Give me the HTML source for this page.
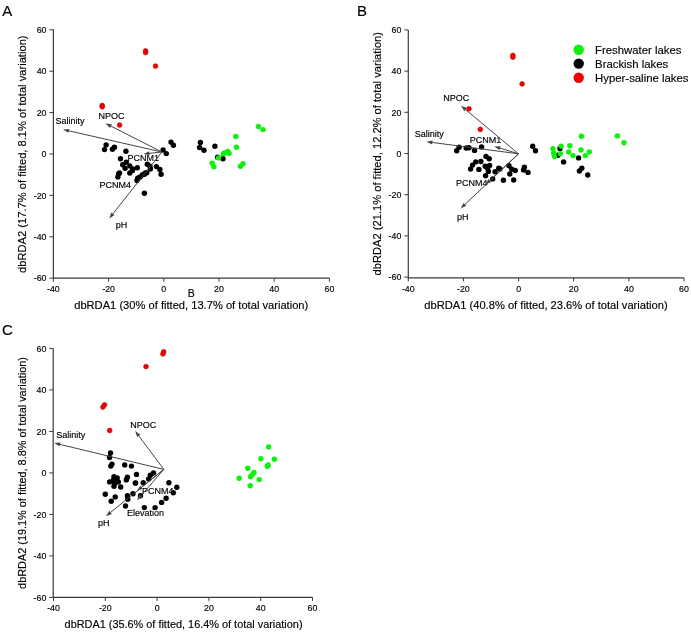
<!DOCTYPE html>
<html><head><meta charset="utf-8"><title>dbRDA</title>
<style>
html,body{margin:0;padding:0;background:#fff;}
body{width:691px;height:632px;overflow:hidden;}
svg{display:block;font-family:'Liberation Sans', sans-serif;will-change:transform;} text{stroke:#000;stroke-width:0.15px;}
</style></head><body>
<svg width="691" height="632" viewBox="0 0 691 632">
<rect width="691" height="632" fill="#fff"/>
<path d="M53.4 29.5 V278.2 H329.4" fill="none" stroke="#3a3a3a" stroke-width="1.2"/>
<path d="M53.4 278.2 v3.5" stroke="#3a3a3a" stroke-width="1"/>
<text x="53.4" y="291.8" font-size="8.8" text-anchor="middle" fill="#000" >-40</text>
<path d="M108.6 278.2 v3.5" stroke="#3a3a3a" stroke-width="1"/>
<text x="108.6" y="291.8" font-size="8.8" text-anchor="middle" fill="#000" >-20</text>
<path d="M163.8 278.2 v3.5" stroke="#3a3a3a" stroke-width="1"/>
<text x="163.8" y="291.8" font-size="8.8" text-anchor="middle" fill="#000" >0</text>
<path d="M219.0 278.2 v3.5" stroke="#3a3a3a" stroke-width="1"/>
<text x="219.0" y="291.8" font-size="8.8" text-anchor="middle" fill="#000" >20</text>
<path d="M274.2 278.2 v3.5" stroke="#3a3a3a" stroke-width="1"/>
<text x="274.2" y="291.8" font-size="8.8" text-anchor="middle" fill="#000" >40</text>
<path d="M329.4 278.2 v3.5" stroke="#3a3a3a" stroke-width="1"/>
<text x="329.4" y="291.8" font-size="8.8" text-anchor="middle" fill="#000" >60</text>
<path d="M53.4 278.2 h-4" stroke="#3a3a3a" stroke-width="1"/>
<text x="46.5" y="281.4" font-size="8.8" text-anchor="end" fill="#000" >-60</text>
<path d="M53.4 236.8 h-4" stroke="#3a3a3a" stroke-width="1"/>
<text x="46.5" y="240.0" font-size="8.8" text-anchor="end" fill="#000" >-40</text>
<path d="M53.4 195.4 h-4" stroke="#3a3a3a" stroke-width="1"/>
<text x="46.5" y="198.6" font-size="8.8" text-anchor="end" fill="#000" >-20</text>
<path d="M53.4 154.0 h-4" stroke="#3a3a3a" stroke-width="1"/>
<text x="46.5" y="157.2" font-size="8.8" text-anchor="end" fill="#000" >0</text>
<path d="M53.4 112.6 h-4" stroke="#3a3a3a" stroke-width="1"/>
<text x="46.5" y="115.8" font-size="8.8" text-anchor="end" fill="#000" >20</text>
<path d="M53.4 71.2 h-4" stroke="#3a3a3a" stroke-width="1"/>
<text x="46.5" y="74.4" font-size="8.8" text-anchor="end" fill="#000" >40</text>
<path d="M53.4 29.8 h-4" stroke="#3a3a3a" stroke-width="1"/>
<text x="46.5" y="33.0" font-size="8.8" text-anchor="end" fill="#000" >60</text>
<text x="2.2" y="15.5" font-size="15" text-anchor="start" fill="#000" >A</text>
<text x="74.2" y="309.3" font-size="11.15" text-anchor="start" fill="#000" >dbRDA1 (30% of fitted, 13.7% of total variation)</text>
<text transform="translate(25.6 154.2) rotate(-90)" font-size="11.17" text-anchor="middle" fill="#000">dbRDA2 (17.7% of fitted, 8.1% of total variation)</text>
<text x="187.8" y="297.3" font-size="10.5" text-anchor="start" fill="#000" >B</text>
<text x="55.5" y="123.8" font-size="9.0" text-anchor="start" fill="#000" >Salinity</text>
<text x="98.4" y="118.9" font-size="9.0" text-anchor="start" fill="#000" >NPOC</text>
<text x="127.5" y="161.4" font-size="9.0" text-anchor="start" fill="#000" >PCNM1</text>
<text x="99.5" y="187.6" font-size="9.0" text-anchor="start" fill="#000" >PCNM4</text>
<text x="115.7" y="228.0" font-size="9.0" text-anchor="start" fill="#000" >pH</text>
<path d="M408.3 29.9 V277.9 H684.0" fill="none" stroke="#3a3a3a" stroke-width="1.2"/>
<path d="M408.3 277.9 v3.5" stroke="#3a3a3a" stroke-width="1"/>
<text x="408.3" y="291.9" font-size="8.8" text-anchor="middle" fill="#000" >-40</text>
<path d="M463.4 277.9 v3.5" stroke="#3a3a3a" stroke-width="1"/>
<text x="463.4" y="291.9" font-size="8.8" text-anchor="middle" fill="#000" >-20</text>
<path d="M518.6 277.9 v3.5" stroke="#3a3a3a" stroke-width="1"/>
<text x="518.6" y="291.9" font-size="8.8" text-anchor="middle" fill="#000" >0</text>
<path d="M573.7 277.9 v3.5" stroke="#3a3a3a" stroke-width="1"/>
<text x="573.7" y="291.9" font-size="8.8" text-anchor="middle" fill="#000" >20</text>
<path d="M628.9 277.9 v3.5" stroke="#3a3a3a" stroke-width="1"/>
<text x="628.9" y="291.9" font-size="8.8" text-anchor="middle" fill="#000" >40</text>
<path d="M684.0 277.9 v3.5" stroke="#3a3a3a" stroke-width="1"/>
<text x="684.0" y="291.9" font-size="8.8" text-anchor="middle" fill="#000" >60</text>
<path d="M408.3 277.1 h-4" stroke="#3a3a3a" stroke-width="1"/>
<text x="401.3" y="280.3" font-size="8.8" text-anchor="end" fill="#000" >-60</text>
<path d="M408.3 235.9 h-4" stroke="#3a3a3a" stroke-width="1"/>
<text x="401.3" y="239.1" font-size="8.8" text-anchor="end" fill="#000" >-40</text>
<path d="M408.3 194.7 h-4" stroke="#3a3a3a" stroke-width="1"/>
<text x="401.3" y="197.89999999999998" font-size="8.8" text-anchor="end" fill="#000" >-20</text>
<path d="M408.3 153.5 h-4" stroke="#3a3a3a" stroke-width="1"/>
<text x="401.3" y="156.7" font-size="8.8" text-anchor="end" fill="#000" >0</text>
<path d="M408.3 112.3 h-4" stroke="#3a3a3a" stroke-width="1"/>
<text x="401.3" y="115.5" font-size="8.8" text-anchor="end" fill="#000" >20</text>
<path d="M408.3 71.1 h-4" stroke="#3a3a3a" stroke-width="1"/>
<text x="401.3" y="74.3" font-size="8.8" text-anchor="end" fill="#000" >40</text>
<path d="M408.3 29.9 h-4" stroke="#3a3a3a" stroke-width="1"/>
<text x="401.3" y="33.1" font-size="8.8" text-anchor="end" fill="#000" >60</text>
<text x="357.0" y="15.5" font-size="15" text-anchor="start" fill="#000" >B</text>
<text x="424.3" y="308.7" font-size="11.15" text-anchor="start" fill="#000" >dbRDA1 (40.8% of fitted, 23.6% of total variation)</text>
<text transform="translate(380.7 153.7) rotate(-90)" font-size="11.15" text-anchor="middle" fill="#000">dbRDA2 (21.1% of fitted, 12.2% of total variation)</text>
<text x="414.8" y="136.5" font-size="9.0" text-anchor="start" fill="#000" >Salinity</text>
<text x="443.3" y="100.9" font-size="9.0" text-anchor="start" fill="#000" >NPOC</text>
<text x="469.8" y="142.5" font-size="9.0" text-anchor="start" fill="#000" >PCNM1</text>
<text x="456.0" y="185.6" font-size="9.0" text-anchor="start" fill="#000" >PCNM4</text>
<text x="457.1" y="219.6" font-size="9.0" text-anchor="start" fill="#000" >pH</text>
<circle cx="578.7" cy="49.7" r="5.2" fill="#0cf20c"/>
<circle cx="578.7" cy="63.6" r="5.2" fill="#000"/>
<circle cx="578.7" cy="77.7" r="5.2" fill="#f00000"/>
<text x="595.1" y="54.0" font-size="11.35" text-anchor="start" fill="#000" >Freshwater lakes</text>
<text x="595.1" y="68.2" font-size="11.35" text-anchor="start" fill="#000" >Brackish lakes</text>
<text x="595.1" y="82.4" font-size="11.35" text-anchor="start" fill="#000" >Hyper-saline lakes</text>
<path d="M53.2 348.3 V597.4 H312.5" fill="none" stroke="#3a3a3a" stroke-width="1.2"/>
<path d="M53.5 597.4 v3.5" stroke="#3a3a3a" stroke-width="1"/>
<text x="53.5" y="611.0" font-size="8.8" text-anchor="middle" fill="#000" >-40</text>
<path d="M105.3 597.4 v3.5" stroke="#3a3a3a" stroke-width="1"/>
<text x="105.3" y="611.0" font-size="8.8" text-anchor="middle" fill="#000" >-20</text>
<path d="M157.1 597.4 v3.5" stroke="#3a3a3a" stroke-width="1"/>
<text x="157.1" y="611.0" font-size="8.8" text-anchor="middle" fill="#000" >0</text>
<path d="M208.9 597.4 v3.5" stroke="#3a3a3a" stroke-width="1"/>
<text x="208.9" y="611.0" font-size="8.8" text-anchor="middle" fill="#000" >20</text>
<path d="M260.7 597.4 v3.5" stroke="#3a3a3a" stroke-width="1"/>
<text x="260.7" y="611.0" font-size="8.8" text-anchor="middle" fill="#000" >40</text>
<path d="M312.5 597.4 v3.5" stroke="#3a3a3a" stroke-width="1"/>
<text x="312.5" y="611.0" font-size="8.8" text-anchor="middle" fill="#000" >60</text>
<path d="M53.2 597.4 h-4" stroke="#3a3a3a" stroke-width="1"/>
<text x="46.3" y="600.6" font-size="8.8" text-anchor="end" fill="#000" >-60</text>
<path d="M53.2 555.9 h-4" stroke="#3a3a3a" stroke-width="1"/>
<text x="46.3" y="559.1" font-size="8.8" text-anchor="end" fill="#000" >-40</text>
<path d="M53.2 514.4 h-4" stroke="#3a3a3a" stroke-width="1"/>
<text x="46.3" y="517.6" font-size="8.8" text-anchor="end" fill="#000" >-20</text>
<path d="M53.2 472.9 h-4" stroke="#3a3a3a" stroke-width="1"/>
<text x="46.3" y="476.09999999999997" font-size="8.8" text-anchor="end" fill="#000" >0</text>
<path d="M53.2 431.4 h-4" stroke="#3a3a3a" stroke-width="1"/>
<text x="46.3" y="434.59999999999997" font-size="8.8" text-anchor="end" fill="#000" >20</text>
<path d="M53.2 389.9 h-4" stroke="#3a3a3a" stroke-width="1"/>
<text x="46.3" y="393.09999999999997" font-size="8.8" text-anchor="end" fill="#000" >40</text>
<path d="M53.2 348.4 h-4" stroke="#3a3a3a" stroke-width="1"/>
<text x="46.3" y="351.59999999999997" font-size="8.8" text-anchor="end" fill="#000" >60</text>
<text x="2.0" y="334.5" font-size="15" text-anchor="start" fill="#000" >C</text>
<text x="64.6" y="627.6" font-size="10.9" text-anchor="start" fill="#000" >dbRDA1 (35.6% of fitted, 16.4% of total variation)</text>
<text transform="translate(26.4 473) rotate(-90)" font-size="10.9" text-anchor="middle" fill="#000">dbRDA2 (19.1% of fitted, 8.8% of total variation)</text>
<text x="56.2" y="438.1" font-size="9.0" text-anchor="start" fill="#000" >Salinity</text>
<text x="130.3" y="427.6" font-size="9.0" text-anchor="start" fill="#000" >NPOC</text>
<text x="142.0" y="493.5" font-size="9.0" text-anchor="start" fill="#000" >PCNM4</text>
<text x="127.0" y="516.4" font-size="9.0" text-anchor="start" fill="#000" >Elevation</text>
<text x="98.0" y="526.3" font-size="9.0" text-anchor="start" fill="#000" >pH</text>
<circle cx="106.1" cy="144.9" r="2.7" fill="#000"/>
<circle cx="104.5" cy="149.6" r="2.7" fill="#000"/>
<circle cx="114.4" cy="147.3" r="2.7" fill="#000"/>
<circle cx="112.4" cy="149.2" r="2.7" fill="#000"/>
<circle cx="125.9" cy="151.2" r="2.7" fill="#000"/>
<circle cx="120.5" cy="158.7" r="2.7" fill="#000"/>
<circle cx="122.7" cy="164.7" r="2.7" fill="#000"/>
<circle cx="126.2" cy="162.3" r="2.7" fill="#000"/>
<circle cx="125.1" cy="168.2" r="2.7" fill="#000"/>
<circle cx="129.8" cy="165.9" r="2.7" fill="#000"/>
<circle cx="132.6" cy="169" r="2.7" fill="#000"/>
<circle cx="137.3" cy="167.8" r="2.7" fill="#000"/>
<circle cx="129.8" cy="173" r="2.7" fill="#000"/>
<circle cx="119.5" cy="173" r="2.7" fill="#000"/>
<circle cx="117.9" cy="176.9" r="2.7" fill="#000"/>
<circle cx="137.7" cy="178.1" r="2.7" fill="#000"/>
<circle cx="142.5" cy="174.6" r="2.7" fill="#000"/>
<circle cx="171" cy="142.1" r="2.7" fill="#000"/>
<circle cx="173.4" cy="145.3" r="2.7" fill="#000"/>
<circle cx="163.1" cy="150" r="2.7" fill="#000"/>
<circle cx="166.3" cy="153.6" r="2.7" fill="#000"/>
<circle cx="147.3" cy="164.3" r="2.7" fill="#000"/>
<circle cx="150" cy="166.3" r="2.7" fill="#000"/>
<circle cx="150.4" cy="169" r="2.7" fill="#000"/>
<circle cx="156.4" cy="166.6" r="2.7" fill="#000"/>
<circle cx="159.9" cy="169.4" r="2.7" fill="#000"/>
<circle cx="161.1" cy="174.2" r="2.7" fill="#000"/>
<circle cx="145.3" cy="173" r="2.7" fill="#000"/>
<circle cx="139" cy="177.7" r="2.7" fill="#000"/>
<circle cx="137" cy="180.5" r="2.7" fill="#000"/>
<circle cx="144.4" cy="174.3" r="2.7" fill="#000"/>
<circle cx="146.8" cy="172.8" r="2.7" fill="#000"/>
<circle cx="140.6" cy="176.6" r="2.7" fill="#000"/>
<circle cx="144.4" cy="193.3" r="2.7" fill="#000"/>
<circle cx="118.7" cy="173.8" r="2.7" fill="#000"/>
<circle cx="132.5" cy="170.5" r="2.7" fill="#000"/>
<circle cx="200.4" cy="142.4" r="2.7" fill="#000"/>
<circle cx="199.6" cy="147.5" r="2.7" fill="#000"/>
<circle cx="204" cy="150.3" r="2.7" fill="#000"/>
<circle cx="214.9" cy="146.2" r="2.7" fill="#000"/>
<circle cx="217.6" cy="157.3" r="2.7" fill="#000"/>
<circle cx="223" cy="158.7" r="2.7" fill="#000"/>
<circle cx="218.5" cy="157.9" r="2.7" fill="#0cf20c"/>
<circle cx="223.4" cy="153.7" r="2.7" fill="#0cf20c"/>
<circle cx="227.8" cy="151.5" r="2.7" fill="#0cf20c"/>
<circle cx="229.1" cy="153.2" r="2.7" fill="#0cf20c"/>
<circle cx="212.2" cy="163.2" r="2.7" fill="#0cf20c"/>
<circle cx="213.9" cy="166.7" r="2.7" fill="#0cf20c"/>
<circle cx="236.5" cy="147.2" r="2.7" fill="#0cf20c"/>
<circle cx="235.8" cy="136.4" r="2.7" fill="#0cf20c"/>
<circle cx="258.4" cy="126.5" r="2.7" fill="#0cf20c"/>
<circle cx="263.1" cy="129.6" r="2.7" fill="#0cf20c"/>
<circle cx="243" cy="163.7" r="2.7" fill="#0cf20c"/>
<circle cx="240.4" cy="166.3" r="2.7" fill="#0cf20c"/>
<circle cx="224.7" cy="153" r="2.7" fill="#0cf20c"/>
<circle cx="145.6" cy="50.9" r="2.4" fill="#f00000" stroke="#c00000" stroke-width="0.6"/>
<circle cx="145.6" cy="52.6" r="2.4" fill="#f00000" stroke="#c00000" stroke-width="0.6"/>
<circle cx="155.5" cy="66.1" r="2.4" fill="#f00000" stroke="#c00000" stroke-width="0.6"/>
<circle cx="102.2" cy="105.5" r="2.4" fill="#f00000" stroke="#c00000" stroke-width="0.6"/>
<circle cx="102.2" cy="106.8" r="2.4" fill="#f00000" stroke="#c00000" stroke-width="0.6"/>
<circle cx="119.6" cy="125.1" r="2.4" fill="#f00000" stroke="#c00000" stroke-width="0.6"/>
<circle cx="459.1" cy="147.3" r="2.7" fill="#000"/>
<circle cx="456.7" cy="150.8" r="2.7" fill="#000"/>
<circle cx="466.2" cy="148" r="2.7" fill="#000"/>
<circle cx="469" cy="147.7" r="2.7" fill="#000"/>
<circle cx="474.5" cy="150.4" r="2.7" fill="#000"/>
<circle cx="481.6" cy="146.9" r="2.7" fill="#000"/>
<circle cx="486" cy="156.4" r="2.7" fill="#000"/>
<circle cx="489.2" cy="158.7" r="2.7" fill="#000"/>
<circle cx="475.7" cy="161.9" r="2.7" fill="#000"/>
<circle cx="480.9" cy="161.5" r="2.7" fill="#000"/>
<circle cx="472.5" cy="165.1" r="2.7" fill="#000"/>
<circle cx="470.6" cy="169" r="2.7" fill="#000"/>
<circle cx="478.9" cy="169.4" r="2.7" fill="#000"/>
<circle cx="485.2" cy="166.3" r="2.7" fill="#000"/>
<circle cx="489.6" cy="165.5" r="2.7" fill="#000"/>
<circle cx="487.6" cy="168.2" r="2.7" fill="#000"/>
<circle cx="488.4" cy="171.4" r="2.7" fill="#000"/>
<circle cx="485.6" cy="175.7" r="2.7" fill="#000"/>
<circle cx="495.1" cy="171.8" r="2.7" fill="#000"/>
<circle cx="498.7" cy="168.2" r="2.7" fill="#000"/>
<circle cx="492.7" cy="178.9" r="2.7" fill="#000"/>
<circle cx="532.7" cy="146.3" r="2.7" fill="#000"/>
<circle cx="535.5" cy="150.7" r="2.7" fill="#000"/>
<circle cx="509" cy="165.7" r="2.7" fill="#000"/>
<circle cx="511.8" cy="169.3" r="2.7" fill="#000"/>
<circle cx="515.3" cy="170.5" r="2.7" fill="#000"/>
<circle cx="509.8" cy="174" r="2.7" fill="#000"/>
<circle cx="524.4" cy="167.3" r="2.7" fill="#000"/>
<circle cx="523.6" cy="170" r="2.7" fill="#000"/>
<circle cx="528" cy="172.4" r="2.7" fill="#000"/>
<circle cx="513.7" cy="180" r="2.7" fill="#000"/>
<circle cx="503.4" cy="180.3" r="2.7" fill="#000"/>
<circle cx="499.9" cy="168.9" r="2.7" fill="#000"/>
<circle cx="560" cy="148.4" r="2.7" fill="#000"/>
<circle cx="558" cy="155.2" r="2.7" fill="#000"/>
<circle cx="563.6" cy="161.9" r="2.7" fill="#000"/>
<circle cx="578.6" cy="157.9" r="2.7" fill="#000"/>
<circle cx="581.8" cy="168.2" r="2.7" fill="#000"/>
<circle cx="579.4" cy="171" r="2.7" fill="#000"/>
<circle cx="587.7" cy="175" r="2.7" fill="#000"/>
<circle cx="581.4" cy="136.2" r="2.7" fill="#0cf20c"/>
<circle cx="552.9" cy="148.8" r="2.7" fill="#0cf20c"/>
<circle cx="553.7" cy="153.2" r="2.7" fill="#0cf20c"/>
<circle cx="554.5" cy="156.4" r="2.7" fill="#0cf20c"/>
<circle cx="561.2" cy="146.1" r="2.7" fill="#0cf20c"/>
<circle cx="560.4" cy="153.6" r="2.7" fill="#0cf20c"/>
<circle cx="569.9" cy="145.7" r="2.7" fill="#0cf20c"/>
<circle cx="568.7" cy="152" r="2.7" fill="#0cf20c"/>
<circle cx="573.1" cy="155.6" r="2.7" fill="#0cf20c"/>
<circle cx="581" cy="150" r="2.7" fill="#0cf20c"/>
<circle cx="585.3" cy="155.6" r="2.7" fill="#0cf20c"/>
<circle cx="589.3" cy="152" r="2.7" fill="#0cf20c"/>
<circle cx="617.4" cy="135.9" r="2.7" fill="#0cf20c"/>
<circle cx="624" cy="142.8" r="2.7" fill="#0cf20c"/>
<circle cx="512.9" cy="55.4" r="2.4" fill="#f00000" stroke="#c00000" stroke-width="0.6"/>
<circle cx="512.9" cy="57.2" r="2.4" fill="#f00000" stroke="#c00000" stroke-width="0.6"/>
<circle cx="522.1" cy="83.9" r="2.4" fill="#f00000" stroke="#c00000" stroke-width="0.6"/>
<circle cx="469" cy="108.8" r="2.4" fill="#f00000" stroke="#c00000" stroke-width="0.6"/>
<circle cx="480.3" cy="129.4" r="2.4" fill="#f00000" stroke="#c00000" stroke-width="0.6"/>
<circle cx="110.5" cy="453" r="2.7" fill="#000"/>
<circle cx="109.5" cy="457.5" r="2.7" fill="#000"/>
<circle cx="112" cy="464.1" r="2.7" fill="#000"/>
<circle cx="110.8" cy="466.1" r="2.7" fill="#000"/>
<circle cx="124.7" cy="464.9" r="2.7" fill="#000"/>
<circle cx="131.4" cy="466.1" r="2.7" fill="#000"/>
<circle cx="136.5" cy="474.4" r="2.7" fill="#000"/>
<circle cx="114" cy="476.8" r="2.7" fill="#000"/>
<circle cx="117.2" cy="477.9" r="2.7" fill="#000"/>
<circle cx="109.6" cy="481.9" r="2.7" fill="#000"/>
<circle cx="113.2" cy="480.3" r="2.7" fill="#000"/>
<circle cx="118.3" cy="481.9" r="2.7" fill="#000"/>
<circle cx="114.8" cy="483.5" r="2.7" fill="#000"/>
<circle cx="114" cy="486.2" r="2.7" fill="#000"/>
<circle cx="120.7" cy="487" r="2.7" fill="#000"/>
<circle cx="127.4" cy="477.2" r="2.7" fill="#000"/>
<circle cx="126.3" cy="479.9" r="2.7" fill="#000"/>
<circle cx="135.3" cy="483.1" r="2.7" fill="#000"/>
<circle cx="143.2" cy="482.8" r="2.7" fill="#000"/>
<circle cx="105.3" cy="494.2" r="2.7" fill="#000"/>
<circle cx="115.2" cy="496.9" r="2.7" fill="#000"/>
<circle cx="111.2" cy="501.3" r="2.7" fill="#000"/>
<circle cx="127.4" cy="495.7" r="2.7" fill="#000"/>
<circle cx="133" cy="493.8" r="2.7" fill="#000"/>
<circle cx="127.8" cy="499.3" r="2.7" fill="#000"/>
<circle cx="140.5" cy="495.7" r="2.7" fill="#000"/>
<circle cx="125.5" cy="506" r="2.7" fill="#000"/>
<circle cx="153.5" cy="473" r="2.7" fill="#000"/>
<circle cx="150.3" cy="475.3" r="2.7" fill="#000"/>
<circle cx="148.7" cy="478.9" r="2.7" fill="#000"/>
<circle cx="168.9" cy="482.8" r="2.7" fill="#000"/>
<circle cx="173.3" cy="492.7" r="2.7" fill="#000"/>
<circle cx="176.8" cy="487.2" r="2.7" fill="#000"/>
<circle cx="166.1" cy="498.3" r="2.7" fill="#000"/>
<circle cx="161.6" cy="502.4" r="2.7" fill="#000"/>
<circle cx="144.3" cy="507.6" r="2.7" fill="#000"/>
<circle cx="155.1" cy="507.6" r="2.7" fill="#000"/>
<circle cx="135.6" cy="482.9" r="2.7" fill="#000"/>
<circle cx="268.7" cy="446.9" r="2.7" fill="#0cf20c"/>
<circle cx="260.9" cy="458.7" r="2.7" fill="#0cf20c"/>
<circle cx="274.4" cy="459.2" r="2.7" fill="#0cf20c"/>
<circle cx="268.2" cy="464.9" r="2.7" fill="#0cf20c"/>
<circle cx="267.3" cy="466.3" r="2.7" fill="#0cf20c"/>
<circle cx="247.8" cy="468.2" r="2.7" fill="#0cf20c"/>
<circle cx="254" cy="472.5" r="2.7" fill="#0cf20c"/>
<circle cx="250.6" cy="476.8" r="2.7" fill="#0cf20c"/>
<circle cx="252.3" cy="474.6" r="2.7" fill="#0cf20c"/>
<circle cx="239.2" cy="478.2" r="2.7" fill="#0cf20c"/>
<circle cx="259.2" cy="479.6" r="2.7" fill="#0cf20c"/>
<circle cx="250.2" cy="485.8" r="2.7" fill="#0cf20c"/>
<circle cx="163.7" cy="351.8" r="2.4" fill="#f00000" stroke="#c00000" stroke-width="0.6"/>
<circle cx="162.9" cy="353.9" r="2.4" fill="#f00000" stroke="#c00000" stroke-width="0.6"/>
<circle cx="146" cy="366.6" r="2.4" fill="#f00000" stroke="#c00000" stroke-width="0.6"/>
<circle cx="104.6" cy="404.8" r="2.4" fill="#f00000" stroke="#c00000" stroke-width="0.6"/>
<circle cx="102.9" cy="407.1" r="2.4" fill="#f00000" stroke="#c00000" stroke-width="0.6"/>
<circle cx="109.7" cy="430.5" r="2.4" fill="#f00000" stroke="#c00000" stroke-width="0.6"/>
<line x1="161.9" y1="152.0" x2="68.85" y2="130.83" stroke="#444444" stroke-width="1"/>
<path d="M63.00 129.50 L69.29 128.88 L68.41 132.78 Z" fill="#444444"/>
<line x1="161.9" y1="152.0" x2="110.95" y2="126.12" stroke="#444444" stroke-width="1"/>
<path d="M105.60 123.40 L111.86 124.33 L110.04 127.90 Z" fill="#444444"/>
<line x1="161.9" y1="152.0" x2="149.46" y2="153.35" stroke="#444444" stroke-width="1"/>
<path d="M143.50 154.00 L149.25 151.36 L149.68 155.34 Z" fill="#444444"/>
<line x1="161.9" y1="152.0" x2="112.93" y2="213.70" stroke="#444444" stroke-width="1"/>
<path d="M109.20 218.40 L111.36 212.46 L114.50 214.94 Z" fill="#444444"/>
<line x1="518.5" y1="153.8" x2="432.45" y2="142.48" stroke="#444444" stroke-width="1"/>
<path d="M426.50 141.70 L432.71 140.50 L432.19 144.47 Z" fill="#444444"/>
<line x1="518.5" y1="153.8" x2="465.61" y2="109.65" stroke="#444444" stroke-width="1"/>
<path d="M461.00 105.80 L466.89 108.11 L464.32 111.18 Z" fill="#444444"/>
<line x1="518.5" y1="153.8" x2="500.04" y2="148.15" stroke="#444444" stroke-width="1"/>
<path d="M494.30 146.40 L500.62 146.24 L499.45 150.07 Z" fill="#444444"/>
<line x1="518.5" y1="153.8" x2="464.96" y2="204.38" stroke="#444444" stroke-width="1"/>
<path d="M460.60 208.50 L463.59 202.93 L466.33 205.83 Z" fill="#444444"/>
<line x1="518.5" y1="153.8" x2="489.89" y2="180.41" stroke="#444444" stroke-width="1"/>
<path d="M485.50 184.50 L488.53 178.95 L491.26 181.88 Z" fill="#444444"/>
<line x1="163.8" y1="469.4" x2="60.03" y2="444.41" stroke="#444444" stroke-width="1"/>
<path d="M54.20 443.00 L60.50 442.46 L59.56 446.35 Z" fill="#444444"/>
<line x1="163.8" y1="469.4" x2="138.79" y2="435.91" stroke="#444444" stroke-width="1"/>
<path d="M135.20 431.10 L140.39 434.71 L137.19 437.10 Z" fill="#444444"/>
<line x1="163.8" y1="469.4" x2="140.93" y2="495.77" stroke="#444444" stroke-width="1"/>
<path d="M137.00 500.30 L139.42 494.46 L142.44 497.08 Z" fill="#444444"/>
<line x1="163.8" y1="469.4" x2="141.49" y2="487.25" stroke="#444444" stroke-width="1"/>
<path d="M136.80 491.00 L140.24 485.69 L142.73 488.81 Z" fill="#444444"/>
<line x1="163.8" y1="469.4" x2="110.57" y2="512.43" stroke="#444444" stroke-width="1"/>
<path d="M105.90 516.20 L109.31 510.87 L111.82 513.98 Z" fill="#444444"/>
</svg>
</body></html>
